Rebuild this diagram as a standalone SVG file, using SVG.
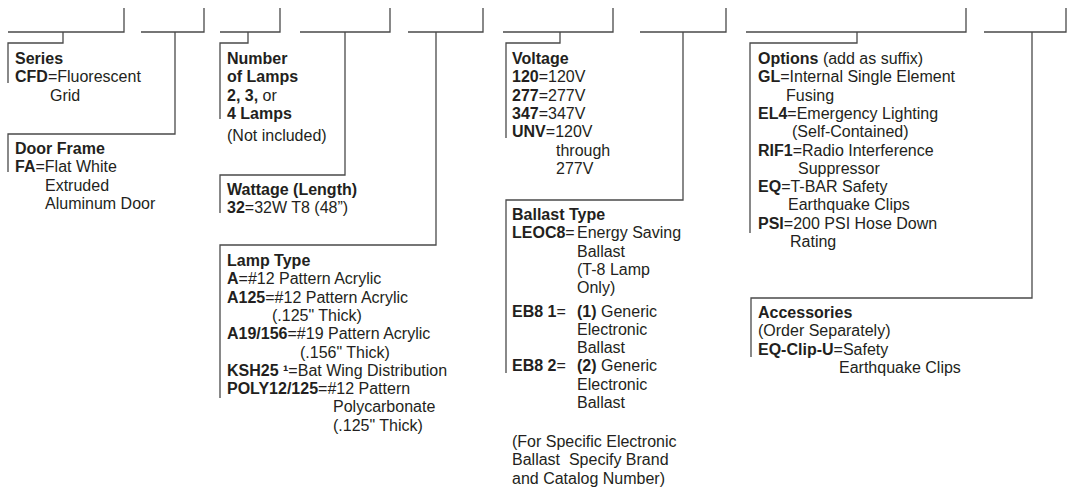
<svg xmlns="http://www.w3.org/2000/svg" width="1070" height="490" viewBox="0 0 1070 490">
<style>
text{font-family:"Liberation Sans",Arial,Helvetica,sans-serif;font-size:16px;fill:#231f20}
.b{font-weight:bold}
.ln{fill:none;stroke:#4a4a4a;stroke-width:1.3}
</style>
<rect width="1070" height="490" fill="#ffffff"/>
<g id="code-blanks" class="ln">
<path d="M8,32 H124 V8"/>
<path d="M141,32 H204 V8"/>
<path d="M220,32 H280 V8"/>
<path d="M300,32 H390 V8"/>
<path d="M408,32 H483 V8"/>
<path d="M503,32 H613 V8"/>
<path d="M640,32 H726 V8"/>
<path d="M746,32 H966 V8"/>
<path d="M984,32 H1066 V8"/>
</g>
<g id="connectors" class="ln">
<path d="M63,32 V43 H8 V83"/>
<path d="M175,32 V134 H8 V172"/>
<path d="M248,32 V43 H220 V119"/>
<path d="M345,32 V175 H220 V213"/>
<path d="M436,32 V245 H220 V398"/>
<path d="M560,32 V43 H506 V138"/>
<path d="M683,32 V200 H506 V373"/>
<path d="M857,32 V43 H750 V233"/>
<path d="M1032,32 V298 H751 V357"/>
</g>
<g id="series">
<text x="15" y="64" class="b">Series</text>
<text x="15" y="82.3"><tspan class="b">CFD</tspan>=Fluorescent</text>
<text x="50" y="100.6">Grid</text>
</g>
<g id="door-frame">
<text x="15" y="154" class="b">Door Frame</text>
<text x="15" y="172.3"><tspan class="b">FA</tspan>=Flat White</text>
<text x="45" y="190.6">Extruded</text>
<text x="45" y="208.9">Aluminum Door</text>
</g>
<g id="number-of-lamps">
<text x="227" y="64" class="b">Number</text>
<text x="227" y="82.3" class="b">of Lamps</text>
<text x="227" y="100.6"><tspan class="b">2, 3,</tspan> or</text>
<text x="227" y="118.9" class="b">4 Lamps</text>
<text x="227" y="141">(Not included)</text>
</g>
<g id="wattage">
<text x="227" y="195" class="b">Wattage (Length)</text>
<text x="227" y="213.3"><tspan class="b">32</tspan>=32W T8 (48”)</text>
</g>
<g id="lamp-type">
<text x="227" y="266" class="b">Lamp Type</text>
<text x="227" y="284.3"><tspan class="b">A</tspan>=#12 Pattern Acrylic</text>
<text x="227" y="302.6"><tspan class="b">A125</tspan>=#12 Pattern Acrylic</text>
<text x="272" y="320.9">(.125" Thick)</text>
<text x="227" y="339.2"><tspan class="b">A19/156</tspan>=#19 Pattern Acrylic</text>
<text x="300" y="357.5">(.156" Thick)</text>
<text x="227" y="375.8"><tspan class="b">KSH25 ¹</tspan>=Bat Wing Distribution</text>
<text x="227" y="394.1"><tspan class="b">POLY12/125</tspan>=#12 Pattern</text>
<text x="333" y="412.4">Polycarbonate</text>
<text x="333" y="430.7">(.125" Thick)</text>
</g>
<g id="voltage">
<text x="512" y="64" class="b">Voltage</text>
<text x="512" y="82.3"><tspan class="b">120</tspan>=120V</text>
<text x="512" y="100.6"><tspan class="b">277</tspan>=277V</text>
<text x="512" y="118.9"><tspan class="b">347</tspan>=347V</text>
<text x="512" y="137.2"><tspan class="b">UNV</tspan>=120V</text>
<text x="556" y="155.5">through</text>
<text x="556" y="173.8">277V</text>
</g>
<g id="ballast-type">
<text x="512" y="220" class="b">Ballast Type</text>
<text x="512" y="238.3"><tspan class="b">LEOC8</tspan>=</text>
<text x="577" y="238.3">Energy Saving</text>
<text x="577" y="256.6">Ballast</text>
<text x="577" y="274.9">(T-8 Lamp</text>
<text x="577" y="293.2">Only)</text>
<text x="512" y="316.5"><tspan class="b">EB8 1</tspan>=</text>
<text x="577" y="316.5"><tspan class="b">(1)</tspan> Generic</text>
<text x="577" y="334.8">Electronic</text>
<text x="577" y="353.1">Ballast</text>
<text x="512" y="371.4"><tspan class="b">EB8 2</tspan>=</text>
<text x="577" y="371.4"><tspan class="b">(2)</tspan> Generic</text>
<text x="577" y="389.7">Electronic</text>
<text x="577" y="408">Ballast</text>
<text x="512" y="447">(For Specific Electronic</text>
<text x="512" y="465.3">Ballast&#160; Specify Brand</text>
<text x="512" y="483.6">and Catalog Number)</text>
</g>
<g id="options">
<text x="758" y="64"><tspan class="b">Options</tspan> (add as suffix)</text>
<text x="758" y="82.3"><tspan class="b">GL</tspan>=Internal Single Element</text>
<text x="786" y="100.6">Fusing</text>
<text x="758" y="118.9"><tspan class="b">EL4</tspan>=Emergency Lighting</text>
<text x="792" y="137.2">(Self-Contained)</text>
<text x="758" y="155.5"><tspan class="b">RIF1</tspan>=Radio Interference</text>
<text x="798" y="173.8">Suppressor</text>
<text x="758" y="192.1"><tspan class="b">EQ</tspan>=T-BAR Safety</text>
<text x="788" y="210.4">Earthquake Clips</text>
<text x="758" y="228.7"><tspan class="b">PSI</tspan>=200 PSI Hose Down</text>
<text x="790" y="247">Rating</text>
</g>
<g id="accessories">
<text x="758" y="318" class="b">Accessories</text>
<text x="758" y="336.3">(Order Separately)</text>
<text x="758" y="354.6"><tspan class="b">EQ-Clip-U</tspan>=Safety</text>
<text x="839" y="372.9">Earthquake Clips</text>
</g>
</svg>
